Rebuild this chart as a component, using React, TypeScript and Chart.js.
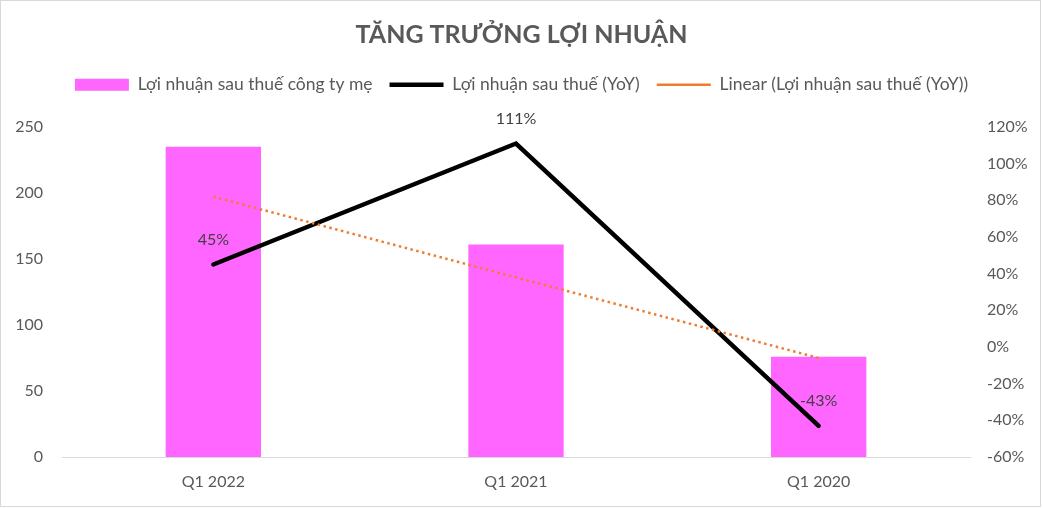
import React, { useEffect, useRef } from "react";
import { Chart, registerables } from "chart.js";

Chart.register(...registerables);

const categories = ["Q1 2022", "Q1 2021", "Q1 2020"];
const profitValues = [235, 161, 76];
const yoyValues = [45, 111, -43];
const trendValues = [82, 38, -6];
const leftTicks = { min: 0, max: 250, step: 50 };
const rightTicks = { min: -60, max: 120, step: 20 };

const FONT = "Lato";
const GREY = "#595959";

const borderPlugin = {
  id: "frame",
  beforeDraw(chart: any) {
    const ctx = chart.ctx;
    ctx.save();
    ctx.fillStyle = "#ffffff";
    ctx.fillRect(0, 0, chart.width, chart.height);
    ctx.strokeStyle = "#d9d9d9";
    ctx.lineWidth = 1;
    ctx.strokeRect(0.5, 0.5, 1040, 506);
    ctx.restore();
  },
};

const labelPlugin = {
  id: "yoyLabels",
  afterDatasetsDraw(chart: any) {
    const meta = chart.getDatasetMeta(1);
    const ctx = chart.ctx;
    ctx.save();
    ctx.font = `16px ${FONT}`;
    ctx.fillStyle = "#404040";
    ctx.textAlign = "center";
    ctx.textBaseline = "middle";
    meta.data.forEach((pt: any, i: number) => {
      ctx.fillText(`${yoyValues[i]}%`, pt.x, pt.y - 25);
    });
    ctx.restore();
  },
};

export default function App() {
  const ref = useRef<HTMLCanvasElement>(null);
  useEffect(() => {
    document.body.style.margin = "0";
    const chart = new Chart(ref.current!, {
      type: "bar",
      data: {
        labels: categories,
        datasets: [
          {
            type: "bar",
            label: "Lợi nhuận sau thuế công ty mẹ",
            data: profitValues,
            backgroundColor: "#FF66FF",
            borderWidth: 0,
            yAxisID: "y",
            order: 3,
            barPercentage: 0.315,
            categoryPercentage: 1,
            pointStyle: "rect",
          } as any,
          {
            type: "line",
            label: "Lợi nhuận sau thuế (YoY)",
            data: yoyValues,
            borderColor: "#000000",
            backgroundColor: "#000000",
            borderWidth: 4.5,
            borderCapStyle: "round",
            borderJoinStyle: "miter",
            pointRadius: 0,
            pointStyle: "line",
            yAxisID: "y1",
            order: 2,
          } as any,
          {
            type: "line",
            label: "Linear (Lợi nhuận sau thuế (YoY))",
            data: trendValues,
            borderColor: "#ED7D31",
            backgroundColor: "#ED7D31",
            borderWidth: 2.5,
            borderDash: [2.5, 3.5],
            pointRadius: 0,
            pointStyle: "line",
            yAxisID: "y1",
            order: 1,
          } as any,
        ],
      },
      options: {
        animation: false,
        responsive: false,
        devicePixelRatio: 1,
        layout: { padding: 0 },
        plugins: {
          tooltip: { enabled: false },
          title: {
            display: true,
            text: "TĂNG TRƯỞNG LỢI NHUẬN",
            color: GREY,
            font: { family: FONT, size: 25, weight: "bold", lineHeight: 1.2 },
            padding: { top: 20, bottom: 9 },
          },
          subtitle: {
            display: true,
            text: "",
            position: "top",
            weight: 500,
            padding: 0,
            font: { family: FONT, size: 20, lineHeight: 1.175 },
          } as any,
          legend: {
            display: true,
            position: "top",
            labels: {
              usePointStyle: true,
              pointStyleWidth: 54,
              boxHeight: 12,
              padding: 17,
              color: GREY,
              font: { family: FONT, size: 17.5 },
              sort: (a: any, b: any) => a.datasetIndex - b.datasetIndex,
            },
          },
        },
        scales: {
          x: {
            grid: { display: false, drawTicks: false },
            border: { display: true, color: "#d9d9d9", width: 1 },
            ticks: { color: GREY, font: { family: FONT, size: 16 }, padding: 15 },
            afterFit: (s: any) => {
              s.height = 51;
            },
          },
          y: {
            position: "left",
            min: leftTicks.min,
            max: leftTicks.max,
            grid: { display: false, drawTicks: false },
            border: { display: false },
            ticks: {
              stepSize: leftTicks.step,
              color: GREY,
              font: { family: FONT, size: 16 },
              padding: 19,
            },
            afterFit: (s: any) => {
              s.width = 62;
            },
          },
          y1: {
            position: "right",
            min: rightTicks.min,
            max: rightTicks.max,
            grid: { display: false, drawTicks: false },
            border: { display: false },
            ticks: {
              stepSize: rightTicks.step,
              color: GREY,
              font: { family: FONT, size: 16 },
              padding: 17,
              callback: (v: any) => `${v}%`,
            },
            afterFit: (s: any) => {
              s.width = 73;
            },
          },
        },
      },
      plugins: [borderPlugin, labelPlugin],
    });
    return () => chart.destroy();
  }, []);
  return (
    <div style={{ position: "absolute", left: 0, top: 0, width: 1043, height: 508 }}>
      <canvas ref={ref} width={1043} height={508} />
    </div>
  );
}
